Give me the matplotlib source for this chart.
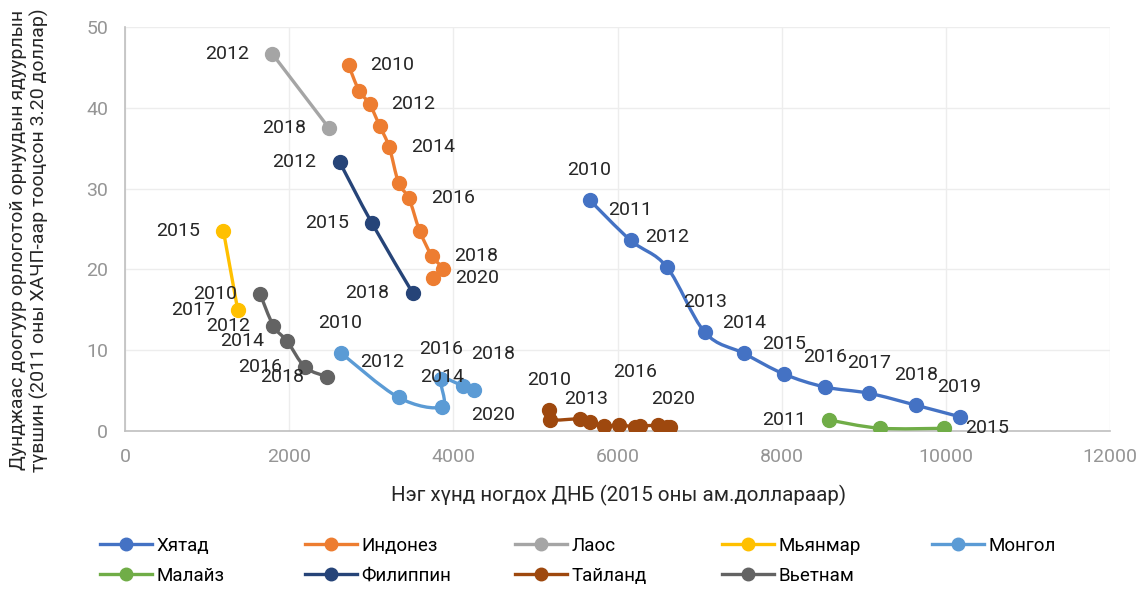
import numpy as np
import matplotlib
matplotlib.use("Agg")
import matplotlib.pyplot as plt
from matplotlib.path import Path
from matplotlib.patches import PathPatch
from matplotlib.lines import Line2D

plt.rcParams["font.family"] = ["Roboto", "DejaVu Sans"]

# --- data ---------------------------------------------------------------
china_x = [5659, 6159, 6601, 7065, 7541, 8028, 8524, 9065, 9634, 10167]
china_y = [28.6, 23.6, 20.3, 12.2, 9.6, 7.05, 5.45, 4.67, 3.2, 1.77]
china_years = [2010, 2011, 2012, 2013, 2014, 2015, 2016, 2017, 2018, 2019]

indonesia_x = [2723, 2852, 2979, 3101, 3220, 3333, 3459, 3589, 3736, 3873, 3756]
indonesia_y = [45.3, 42.1, 40.5, 37.8, 35.1, 30.7, 28.8, 24.8, 21.7, 20.0, 18.9]
indonesia_years = list(range(2010, 2021))

laos_x = [1793, 2484]
laos_y = [46.7, 37.5]
laos_years = [2012, 2018]

myanmar_x = [1199, 1374]
myanmar_y = [24.75, 14.97]
myanmar_years = [2015, 2017]

mongolia_x = [2626, 3333, 3862, 3855, 4118, 4247]
mongolia_y = [9.7, 4.15, 3.0, 6.4, 5.57, 5.07]
mongolia_years = [2010, 2012, 2014, 2016, 2018, 2020]

malaysia_x = [8577, 9195, 9972]
malaysia_y = [1.36, 0.35, 0.33]
malaysia_years = [2011, 2013, 2015]

philippines_x = [2614, 3004, 3504]
philippines_y = [33.3, 25.8, 17.1]
philippines_years = [2012, 2015, 2018]

thailand_x = [5162, 5183, 5540, 5671, 5830, 6024, 6211, 6280, 6496, 6600, 6634]
thailand_y = [2.6, 1.4, 1.5, 1.1, 0.6, 0.75, 0.5, 0.6, 0.7, 0.5, 0.45]
thailand_years = list(range(2010, 2021))

vietnam_x = [1646, 1809, 1976, 2195, 2467]
vietnam_y = [16.96, 13.0, 11.1, 7.9, 6.7]
vietnam_years = [2010, 2012, 2014, 2016, 2018]

# name, x, y, years, colour
SERIES = [
    ("Хятад", china_x, china_y, china_years, "#4472C4"),
    ("Индонез", indonesia_x, indonesia_y, indonesia_years, "#ED7D31"),
    ("Лаос", laos_x, laos_y, laos_years, "#A5A5A5"),
    ("Мьянмар", myanmar_x, myanmar_y, myanmar_years, "#FFC000"),
    ("Монгол", mongolia_x, mongolia_y, mongolia_years, "#5B9BD5"),
    ("Малайз", malaysia_x, malaysia_y, malaysia_years, "#70AD47"),
    ("Филиппин", philippines_x, philippines_y, philippines_years, "#264478"),
    ("Тайланд", thailand_x, thailand_y, thailand_years, "#9E480E"),
    ("Вьетнам", vietnam_x, vietnam_y, vietnam_years, "#636363"),
]

# label placement (pixel offsets of label centre from the point)
ABOVE, LEFT, RIGHT = (0, 30), (-45, 0), (44, 0)
LABELS = {
    "Хятад": {y: ABOVE for y in china_years},
    "Индонез": {y: RIGHT for y in (2010, 2012, 2014, 2016, 2018, 2020)},
    "Лаос": {2012: LEFT, 2018: LEFT},
    "Мьянмар": {2015: LEFT, 2017: LEFT},
    "Монгол": {2010: ABOVE, 2012: (-16, 35), 2014: ABOVE, 2016: ABOVE,
               2018: (30, 32), 2020: (20, -25)},
    "Малайз": {2011: LEFT, 2015: RIGHT},
    "Филиппин": {2012: LEFT, 2015: LEFT, 2018: LEFT},
    "Тайланд": {2010: ABOVE, 2013: (-4, 23), 2016: (0, 55), 2020: (4, 28)},
    "Вьетнам": {y: LEFT for y in vietnam_years},
}


def smooth_path(x, y):
    """Excel-like smoothed line: Catmull-Rom segments as cubic Beziers."""
    p = np.column_stack([x, y]).astype(float)
    verts, codes = [p[0]], [Path.MOVETO]
    for i in range(len(p) - 1):
        p0 = p[max(i - 1, 0)]
        p1, p2 = p[i], p[i + 1]
        p3 = p[min(i + 2, len(p) - 1)]
        verts += [p1 + (p2 - p0) / 6, p2 - (p3 - p1) / 6, p2]
        codes += [Path.CURVE4] * 3
    return Path(verts, codes)


fig = plt.figure(figsize=(11.44, 5.89), dpi=100)
ax = fig.add_axes([125 / 1144, 1 - 431 / 589, 985 / 1144, 404 / 589])

handles = []
for name, x, y, years, color in SERIES:
    ax.add_patch(PathPatch(smooth_path(x, y), facecolor="none", edgecolor=color,
                           lw=2.4, capstyle="round", joinstyle="round", zorder=3))
    ax.plot(x, y, linestyle="none", marker="o", ms=10, color=color, zorder=4)
    for xi, yi, yr in zip(x, y, years):
        off = LABELS[name].get(yr)
        if off is None:
            continue
        ax.annotate(str(yr), (xi, yi), xytext=off, textcoords="offset pixels",
                    ha="center", va="center", fontsize=14, color="#262626",
                    zorder=5)
    handles.append(Line2D([], [], color=color, lw=2.4, marker="o", ms=9,
                          label=name))

ax.set_xlim(0, 12000)
ax.set_ylim(0, 50)
ax.set_xticks(range(0, 12001, 2000))
ax.set_yticks(range(0, 51, 10))
ax.grid(True, color="#EDEDED", lw=1)
ax.set_axisbelow(True)
for side in ("top", "right"):
    ax.spines[side].set_visible(False)
for side in ("left", "bottom"):
    ax.spines[side].set_color("#BFBFBF")
    ax.spines[side].set_linewidth(1.2)
ax.tick_params(length=0, labelsize=14, labelcolor="#959595")
ax.tick_params(axis="y", pad=12)
ax.tick_params(axis="x", pad=12)

fig.text(619 / 1144, 1 - 495 / 589, "Нэг хүнд ногдох ДНБ (2015 оны ам.доллараар)",
         ha="center", va="center", fontsize=14.8, color="#262626")
fig.text(29 / 1144, 1 - 240 / 589,
         "Дунджаас доогуур орлоготой орнуудын ядуурлын\n"
         "түвшин (2011 оны ХАЧП-аар тооцсон 3.20 доллар)",
         ha="center", va="center", rotation=90, fontsize=14,
         color="#262626", linespacing=1.2)

# legend: five evenly spaced columns, two rows
col_x = [100, 305, 515, 722, 932]
for c, cx in enumerate(col_x):
    hs = [handles[c]] + ([handles[c + 5]] if c + 5 < len(handles) else [])
    fig.legend(handles=hs, loc="upper left",
               bbox_to_anchor=(cx / 1144, 1 - 537 / 589), frameon=False,
               fontsize=13.5, handlelength=2.75, handletextpad=0.25,
               labelspacing=0.62, borderpad=0, borderaxespad=0)

fig.savefig("out.png", dpi=100)
